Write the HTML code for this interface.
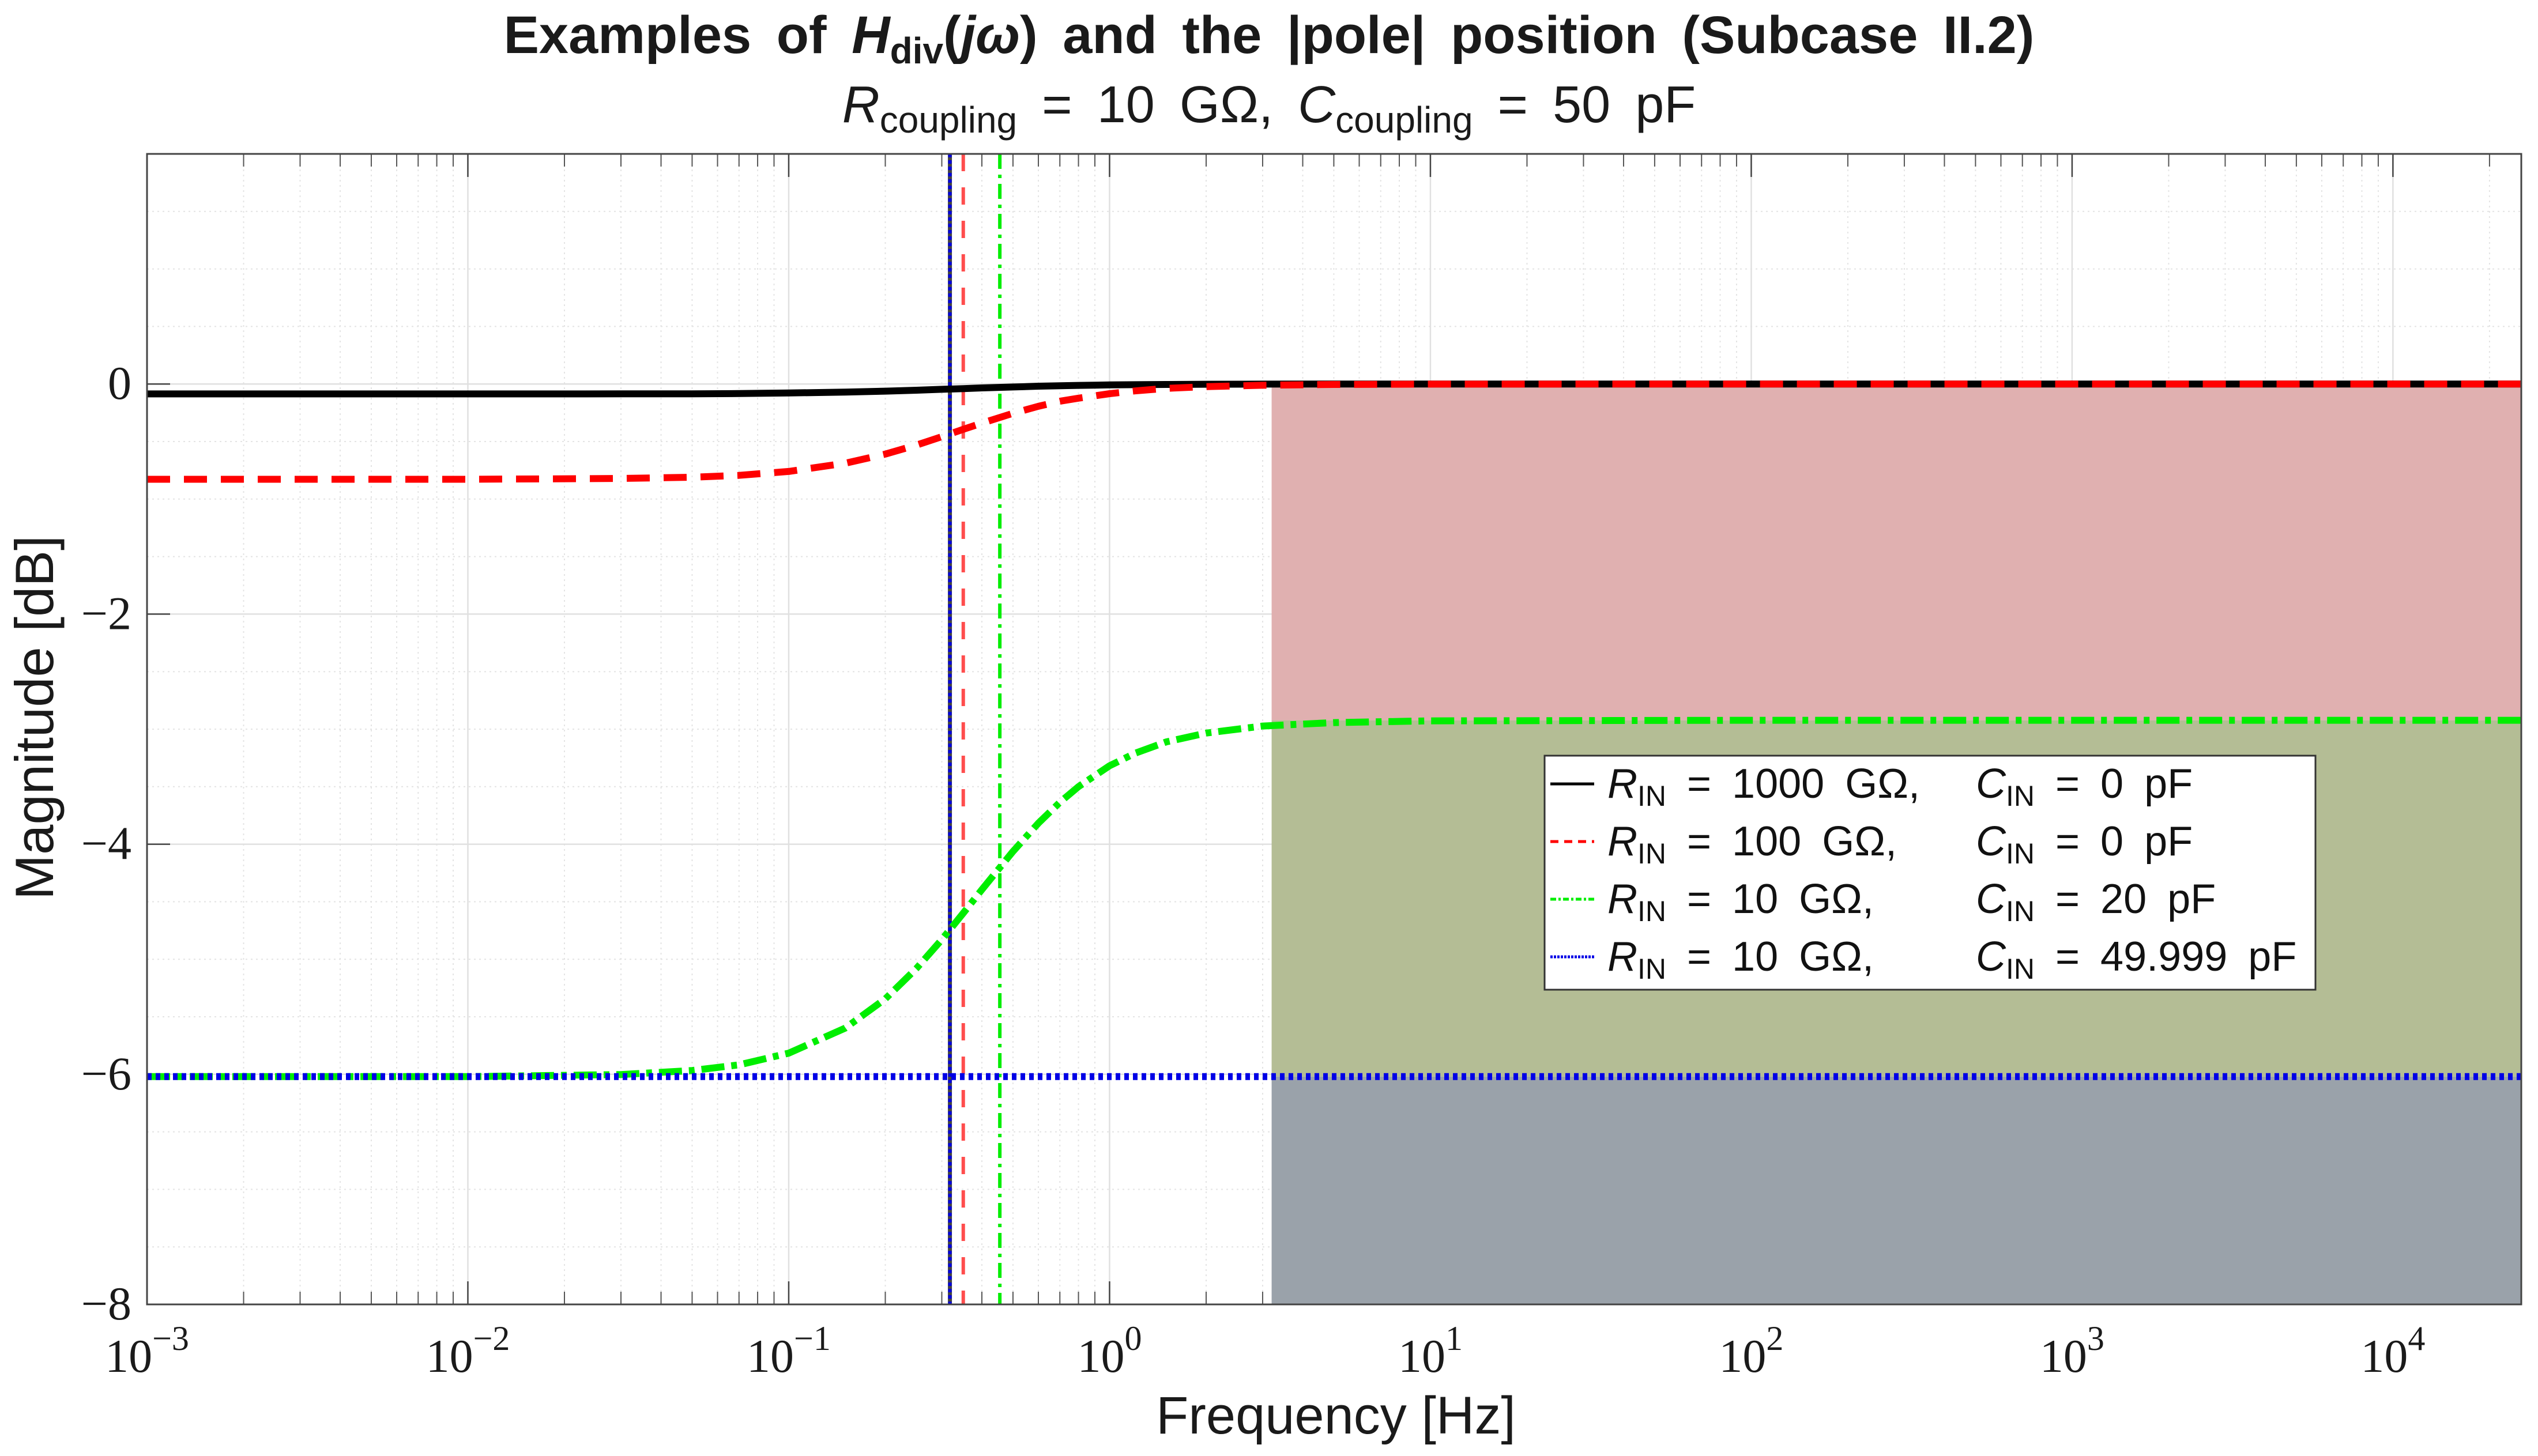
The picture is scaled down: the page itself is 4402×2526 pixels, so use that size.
<!DOCTYPE html>
<html><head><meta charset="utf-8"><style>
html,body{margin:0;padding:0;background:#fff;}
svg{display:block;}
text{font-family:"Liberation Sans",sans-serif;}
.tk{font-family:"Liberation Serif",serif;font-size:82px;fill:#1a1a1a;}
</style></head><body>
<svg id="chart" width="4402" height="2526" viewBox="0 0 4402 2526" xmlns="http://www.w3.org/2000/svg">
<text x="2201" y="92" text-anchor="middle" font-size="92" font-weight="bold" word-spacing="18" fill="#1a1a1a">Examples of <tspan font-style="italic">H</tspan><tspan font-size="64" dy="18">div</tspan><tspan dy="-18">(</tspan><tspan font-style="italic">jω</tspan>) and the |pole| position (Subcase II.2)</text>
<text x="2201" y="212" text-anchor="middle" font-size="90" word-spacing="18" fill="#1a1a1a"><tspan font-style="italic">R</tspan><tspan font-size="64" dy="18">coupling</tspan><tspan dy="-18"> = 10 GΩ, </tspan><tspan font-style="italic">C</tspan><tspan font-size="64" dy="18">coupling</tspan><tspan dy="-18"> = 50 pF</tspan></text>
<g id="plot"></g>
<text x="2317" y="2487" text-anchor="middle" font-size="92" fill="#1a1a1a">Frequency [Hz]</text>
<text transform="translate(92,1245) rotate(-90)" text-anchor="middle" font-size="94" fill="#1a1a1a">Magnitude [dB]</text>
</svg>
<script>
const freqs = [0.001,0.01,0.03,0.05,0.07,0.1,0.15,0.2,0.25,0.3,0.35,0.4,0.5,0.6,0.7,0.8,1,1.2,1.5,2,3,5,10,100,1000,10000,25119];
const blackDb = [-0.086,-0.086,-0.0857,-0.085,-0.083,-0.078,-0.070,-0.062,-0.054,-0.046,-0.040,-0.034,-0.026,-0.019,-0.015,-0.012,-0.008,-0.006,-0.004,-0.002,-0.001,0,0,0,0,0,0];
const redDb = [-0.828,-0.828,-0.821,-0.810,-0.794,-0.760,-0.689,-0.609,-0.531,-0.458,-0.394,-0.340,-0.255,-0.194,-0.150,-0.123,-0.084,-0.060,-0.038,-0.023,-0.011,-0.004,-0.001,0,0,0,0];
const greenDb = [-6.02,-6.02,-6.002,-5.967,-5.918,-5.816,-5.598,-5.344,-5.080,-4.829,-4.599,-4.395,-4.063,-3.817,-3.636,-3.500,-3.318,-3.210,-3.111,-3.034,-2.973,-2.943,-2.928,-2.923,-2.923,-2.923,-2.923];
const blueDb = [-6.02,-6.02,-6.02,-6.02,-6.02,-6.02,-6.02,-6.02,-6.02,-6.02,-6.02,-6.02,-6.02,-6.02,-6.02,-6.02,-6.02,-6.02,-6.02,-6.02,-6.02,-6.02,-6.02,-6.02,-6.02,-6.02,-6.02];
const poleFreqs = [0.318, 0.318, 0.35, 0.455];
const bandStart = 3.2;
const bandLevels = [0, -2.923, -6.02, -8];
const yTicks = [0,-2,-4,-6,-8];
const xDecades = [-3,-2,-1,0,1,2,3,4];

const L=255,R=4373,T=267,B=2263;
const xMinE=-3, xMaxE=4.4, yMin=-8, yMax=2;
const xs=f=>L+(Math.log10(f)-xMinE)/(xMaxE-xMinE)*(R-L);
const ys=v=>T+(yMax-v)/(yMax-yMin)*(B-T);
const NS="http://www.w3.org/2000/svg";
const g=document.getElementById('plot');
function mk(tag,attrs,parent){const e=document.createElementNS(NS,tag);for(const k in attrs)e.setAttribute(k,attrs[k]);(parent||g).appendChild(e);return e;}

let bg=mk('rect',{x:L,y:T,width:R-L,height:B-T,fill:'#fff'});



for(let e=-3;e<=4;e++){for(let m=2;m<=9;m++){const f=m*Math.pow(10,e);if(Math.log10(f)>xMaxE)continue;const x=xs(f);
 let gl=mk('line',{x1:x,x2:x,y1:T,y2:B,stroke:'#e4e4e4','stroke-width':2,'stroke-dasharray':'3 6'});
 
 
 mk('line',{x1:x,x2:x,y1:B,y2:B-22,stroke:'#555','stroke-width':2});
 mk('line',{x1:x,x2:x,y1:T,y2:T+22,stroke:'#555','stroke-width':2});
}}
for(let v=-7.5;v<2;v+=0.5){if(Number.isInteger(v/2))continue;const y=ys(v);
 let gl=mk('line',{x1:L,x2:R,y1:y,y2:y,stroke:'#e4e4e4','stroke-width':2,'stroke-dasharray':'3 6'});
 
 
}
xDecades.forEach(d=>{const x=xs(Math.pow(10,d));
 let gl=mk('line',{x1:x,x2:x,y1:T,y2:B,stroke:'#e0e0e0','stroke-width':2.5});
 
 
 mk('line',{x1:x,x2:x,y1:B,y2:B-40,stroke:'#444','stroke-width':2.5});
 mk('line',{x1:x,x2:x,y1:T,y2:T+40,stroke:'#444','stroke-width':2.5});
 const t=mk('text',{x:x,y:2380,'text-anchor':'middle',class:'tk'});
 t.innerHTML='10<tspan font-size="60" dy="-38">'+(d<0?'\u2212'+(-d):d)+'</tspan>';
 
 
});
yTicks.forEach(v=>{const y=ys(v);
 let gl=mk('line',{x1:L,x2:R,y1:y,y2:y,stroke:'#e0e0e0','stroke-width':2.5});
 
 
 mk('line',{x1:L,x2:L+40,y1:y,y2:y,stroke:'#444','stroke-width':2.5});
 mk('line',{x1:R,x2:R-40,y1:y,y2:y,stroke:'#444','stroke-width':2.5});
 const t=mk('text',{x:228,y:y+26,'text-anchor':'end',class:'tk'});
 t.textContent=v<0?'\u2212'+(-v):String(v);
 
 
});

const bandColors=['#e0b0b0','#b4bd95','#9aa2aa'];
const bandNames=['band-attenuation-red','band-attenuation-olive','band-attenuation-gray'];
for(let i=0;i<3;i++){const x0=xs(bandStart),y0=ys(bandLevels[i]),y1=ys(bandLevels[i+1]);
 const r=mk('rect',{x:x0,y:y0,width:R-x0,height:y1-y0,fill:bandColors[i]});
 
 
}

const poleStyles=[
 {stroke:'#444','stroke-width':7,dash:''},
 {stroke:'#0000e0','stroke-width':6,dash:'6 5'},
 {stroke:'#ff4d4d','stroke-width':6,dash:'30 28'},
 {stroke:'#00ee00','stroke-width':6,dash:'26 10 6 10'}];
const poleNames=['pole-line-black','pole-line-blue','pole-line-red','pole-line-green'];
poleFreqs.forEach((f,i)=>{const x=xs(f);const s=poleStyles[i];
 const l=mk('line',{x1:x,x2:x,y1:T,y2:B,stroke:s.stroke,'stroke-width':s['stroke-width']});
 if(s.dash)l.setAttribute('stroke-dasharray',s.dash);
 
 
});

function series(vals,stroke,dash,name){
 const d=freqs.map((f,i)=>(i?'L':'M')+xs(f).toFixed(1)+','+ys(vals[i]).toFixed(1)).join(' ');
 const p=mk('path',{d:d,fill:'none',stroke:stroke,'stroke-width':12,'stroke-linejoin':'round'});
 if(dash)p.setAttribute('stroke-dasharray',dash);
 
 
}
series(blackDb,'#000','', 'series-rin-1000g');
series(redDb,'#ff0000','40 24','series-rin-100g');
series(greenDb,'#00ee00','40 12 10 12','series-rin-10g-cin-20p');
series(blueDb,'#0000e6','8 7','series-rin-10g-cin-49p');

let ax=mk('rect',{x:L,y:T,width:R-L,height:B-T,fill:'none',stroke:'#444','stroke-width':3});



const lg=mk('g',{});


mk('rect',{x:2679,y:1311,width:1337,height:406,fill:'#fff',stroke:'#333','stroke-width':3},lg);
const legR=['1000 GΩ,','100 GΩ,','10 GΩ,','10 GΩ,'];
const legC=['0 pF','0 pF','20 pF','49.999 pF'];
const legStroke=['#000','#ff0000','#00ee00','#0000e6'];
const legDash=['','14 10','10 4 4 4','4 2'];
for(let i=0;i<4;i++){const by=1384+i*100;
 const e=mk('g',{},lg);
 
 
 const ln=mk('line',{x1:2689,x2:2765,y1:by-24,y2:by-24,stroke:legStroke[i],'stroke-width':5},e);
 if(legDash[i])ln.setAttribute('stroke-dasharray',legDash[i]);
 const t1=mk('text',{x:2788,y:by,'font-size':72,fill:'#111','word-spacing':16},e);
 t1.innerHTML='<tspan font-style="italic">R</tspan><tspan font-size="50" dy="14">IN</tspan><tspan dy="-14"> = '+legR[i]+'</tspan>';
 const t2=mk('text',{x:3427,y:by,'font-size':72,fill:'#111','word-spacing':16},e);
 t2.innerHTML='<tspan font-style="italic">C</tspan><tspan font-size="50" dy="14">IN</tspan><tspan dy="-14"> = '+legC[i]+'</tspan>';
}
</script>
</body></html>
